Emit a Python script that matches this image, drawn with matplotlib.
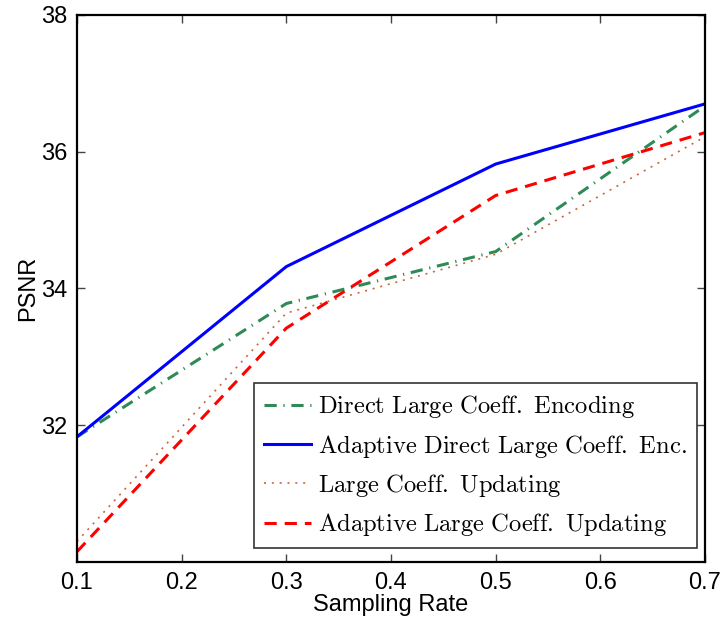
import matplotlib
matplotlib.use("Agg")
import matplotlib.pyplot as plt

# Sampling rates and PSNR results for each coding scheme
sampling_rate = [0.1, 0.3, 0.5, 0.7]
direct_large_coeff_enc = [31.83, 33.78, 34.54, 36.67]
adaptive_direct_large_coeff_enc = [31.83, 34.32, 35.82, 36.70]
large_coeff_updating = [30.30, 33.64, 34.50, 36.22]
adaptive_large_coeff_updating = [30.15, 33.42, 35.36, 36.28]

series_labels = [
    r"$\mathrm{Direct\ Large\ Coeff.\ Encoding}$",
    r"$\mathrm{Adaptive\ Direct\ Large\ Coeff.\ Enc.}$",
    r"$\mathrm{Large\ Coeff.\ Updating}$",
    r"$\mathrm{Adaptive\ Large\ Coeff.\ Updating}$",
]
x_ticks = [0.1, 0.2, 0.3, 0.4, 0.5, 0.6, 0.7]
y_ticks = [32, 34, 36, 38]

plt.rcParams["mathtext.fontset"] = "cm"
plt.rcParams["font.family"] = ["Liberation Sans", "DejaVu Sans"]

fig = plt.figure(figsize=(7.22, 6.22), dpi=100)
ax = fig.add_axes([0.1066, 0.0965, 0.8699, 0.8794])

ax.plot(sampling_rate, direct_large_coeff_enc, color="#2E8B57", lw=2.2,
        linestyle=(0, (4.0, 2.2, 0.4, 2.2)), label=series_labels[0])
ax.plot(sampling_rate, adaptive_direct_large_coeff_enc, color="#0000FF", lw=2.2,
        linestyle="-", label=series_labels[1])
ax.plot(sampling_rate, large_coeff_updating, color="#C8683A", lw=1.2,
        linestyle=(0, (1.2, 3.5)), label=series_labels[2])
ax.plot(sampling_rate, adaptive_large_coeff_updating, color="#FF0000", lw=2.2,
        linestyle=(0, (4.0, 2.6)), label=series_labels[3])

ax.set_xlim(0.1, 0.7)
ax.set_ylim(30, 38)
ax.set_xticks(x_ticks)
ax.set_xticklabels([f"{v:.1f}" for v in x_ticks])
ax.set_yticks(y_ticks)
ax.set_yticklabels([str(v) for v in y_ticks])

ax.tick_params(direction="in", top=True, right=True, length=6, width=1,
               labelsize=17, color="#444444", pad=7)
for sp in ax.spines.values():
    sp.set_linewidth(1.6)

ax.set_xlabel("Sampling Rate", fontsize=17, labelpad=0)
ax.set_ylabel("PSNR", fontsize=17, labelpad=1)

leg = ax.legend(loc="lower right", bbox_to_anchor=(0.987, 0.0256),
                fontsize=17.7, frameon=True, fancybox=False, edgecolor="black",
                handlelength=1.9, handletextpad=0.3, labelspacing=0.5,
                borderpad=0.4, borderaxespad=0.0)
leg.get_frame().set_linewidth(1.2)

fig.savefig("out.png", dpi=100)
